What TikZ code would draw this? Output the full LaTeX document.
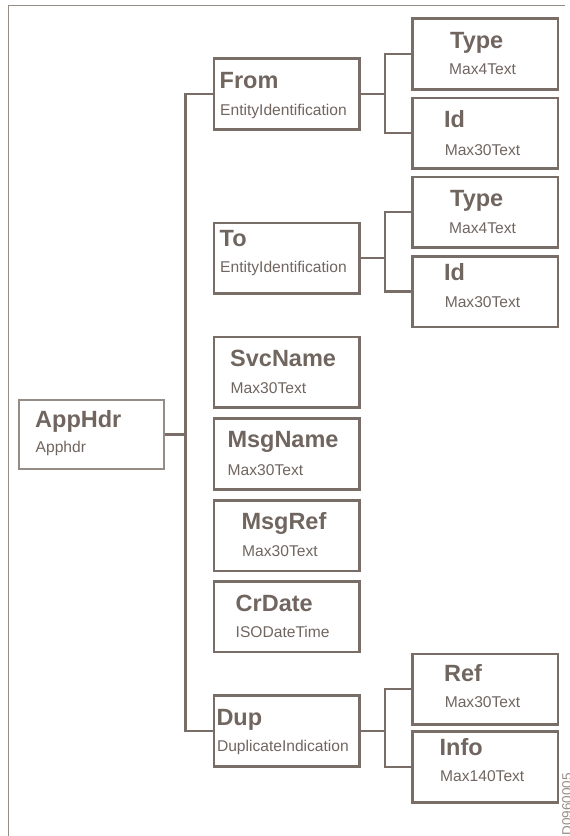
\documentclass[tikz,border=0pt]{standalone}
\usepackage{fontspec}
\setmainfont{Liberation Sans}
\definecolor{ln}{RGB}{121,110,103}
\definecolor{tx}{RGB}{112,101,95}
\definecolor{lt}{RGB}{150,140,134}
\begin{document}
\begin{tikzpicture}[x=1pt,y=-1pt,
  box/.style={draw=ln,line width=2.5pt,minimum width=145.5pt,minimum height=70.7pt,inner sep=0pt,anchor=north west},
  rootbox/.style={draw=lt,line width=1.2pt,minimum width=145pt,minimum height=69pt,inner sep=0pt,anchor=north west},
  ttl/.style={anchor=base west,inner sep=0pt,text=tx,font=\fontsize{23.5}{26}\selectfont\bfseries},
  sub/.style={anchor=base west,inner sep=0pt,text=tx,font=\fontsize{15.6}{18}\selectfont},
  conn/.style={draw=ln,line width=2.3pt}]
\useasboundingbox (0,0) rectangle (570,836);
% frame
\coordinate (fa) at (8.3,836);
\coordinate (fb) at (8.3,5.7);
\coordinate (fc) at (565,5.7);
\draw[lt,line width=1.3pt] (fa) -- (fb) -- (fc);
% boxes
\node[rootbox] (apphdr) at (18.3,399.3) {};
\node[box] (from) at (212.7,57.3) {};
\node[box] (to) at (212.7,221.7) {};
\node[box] (svc) at (212.7,335.7) {};
\node[box] (msgname) at (212.7,417.3) {};
\node[box] (msgref) at (212.7,499) {};
\node[box] (crdate) at (212.7,580) {};
\node[box] (dup) at (212.7,694.3) {};
\node[box] (type1) at (411,17.3) {};
\node[box] (id1) at (411,96.7) {};
\node[box] (type2) at (411,175.7) {};
\node[box] (id2) at (411,255) {};
\node[box] (ref) at (411,652.7) {};
\node[box] (info) at (411,730.3) {};
% texts
\node[ttl] (apphdr-t) at (35,427.7) {AppHdr};
\node[sub] (apphdr-s) at (35.5,452.7) {Apphdr};
\node[ttl] (from-t) at (219.5,88.3) {From};
\node[sub] (from-s) at (220,115) {EntityIdentification};
\node[ttl] (to-t) at (219.5,246) {To};
\node[sub] (to-s) at (220,272.7) {EntityIdentification};
\node[ttl] (svc-t) at (230,366) {SvcName};
\node[sub] (svc-s) at (230.5,393.3) {Max30Text};
\node[ttl] (msgname-t) at (227.3,447.7) {MsgName};
\node[sub] (msgname-s) at (227.5,475) {Max30Text};
\node[ttl] (msgref-t) at (241.3,529) {MsgRef};
\node[sub] (msgref-s) at (242,556) {Max30Text};
\node[ttl] (crdate-t) at (235.5,611) {CrDate};
\node[sub] (crdate-s) at (235.5,637.7) {ISODateTime};
\node[ttl] (dup-t) at (216.3,725) {Dup};
\node[sub] (dup-s) at (216.8,751.7) {DuplicateIndication};
\node[ttl] (type1-t) at (450,48.3) {Type};
\node[sub] (type1-s) at (449,74) {Max4Text};
\node[ttl] (id1-t) at (444,127.3) {Id};
\node[sub] (id1-s) at (444.6,155) {Max30Text};
\node[ttl] (type2-t) at (450,206.7) {Type};
\node[sub] (type2-s) at (449,233.3) {Max4Text};
\node[ttl] (id2-t) at (444,280) {Id};
\node[sub] (id2-s) at (444.6,307.3) {Max30Text};
\node[ttl] (ref-t) at (444,681) {Ref};
\node[sub] (ref-s) at (444.6,707.7) {Max30Text};
\node[ttl] (info-t) at (439.5,755) {Info};
\node[sub] (info-s) at (440,781) {Max140Text};
\node[anchor=base west,inner sep=0pt,rotate=90,text=lt,font=\fontsize{13.5}{15}\selectfont] (code) at (571.5,835.5) {D0960005};
% connectors
\coordinate (tr) at (apphdr.east -| 185.5,0);
\coordinate (f1) at (from.east -| 384.7,0);
\coordinate (f2) at (to.east -| 384.7,0);
\coordinate (f3) at (dup.east -| 384.7,0);
\draw[conn] (apphdr.east) -- (tr);
\draw[conn] (from.west) -| (tr) |- (dup.west);
\draw[conn] (from.east) -- (f1);
\draw[conn] (type1.west) -| (f1) |- (id1.west);
\draw[conn] (to.east) -- (f2);
\draw[conn] (type2.west) -| (f2) |- (id2.west);
\draw[conn] (dup.east) -- (f3);
\draw[conn] (ref.west) -| (f3) |- (info.west);
\end{tikzpicture}
\end{document}
